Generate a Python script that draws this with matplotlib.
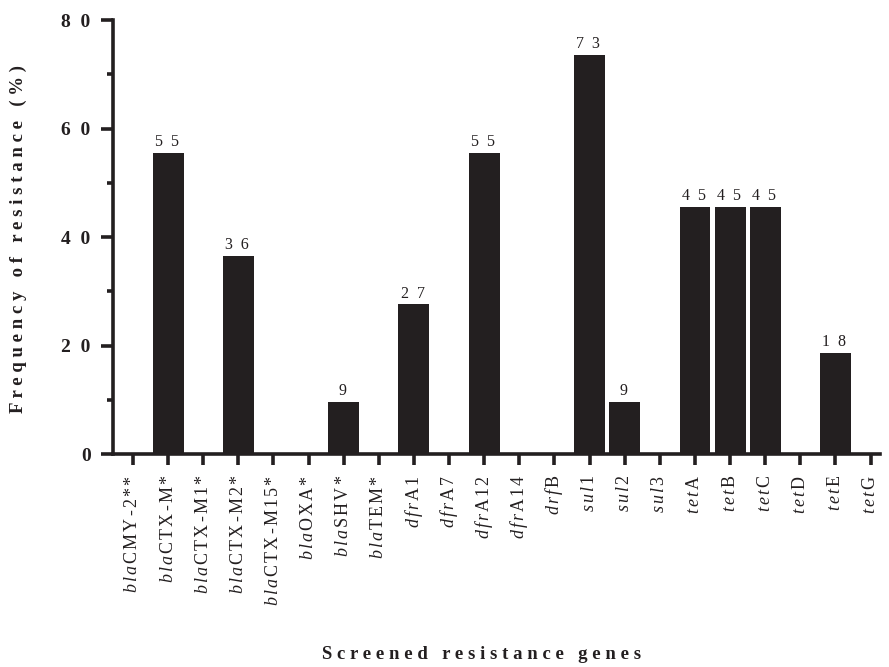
import matplotlib
matplotlib.use("Agg")
import matplotlib.pyplot as plt
from matplotlib.ticker import MultipleLocator

plt.rcParams['font.family'] = ['Liberation Serif', 'DejaVu Serif']
plt.rcParams['mathtext.fontset'] = 'custom'
plt.rcParams['mathtext.rm'] = 'Liberation Serif'
plt.rcParams['mathtext.it'] = 'Liberation Serif:italic'
plt.rcParams['mathtext.bf'] = 'Liberation Serif:bold'

# gene name parts: italic prefix, roman suffix
gene_italic = ['bla'] * 8 + ['dfr'] * 4 + ['drf'] + ['sul'] * 3 + ['tet'] * 6
gene_roman = ['CMY-2**', 'CTX-M*', 'CTX-M1*', 'CTX-M2*', 'CTX-M15*', 'OXA*', 'SHV*', 'TEM*',
              'A1', 'A7', 'A12', 'A14', 'B', '1', '2', '3',
              'A', 'B', 'C', 'D', 'E', 'G']
values = [0, 55.5, 0, 36.5, 0, 0, 9.6, 0,
          27.6, 0, 55.5, 0, 0, 73.5, 9.6, 0,
          45.6, 45.6, 45.6, 0, 18.6, 0]
bar_labels = ['', '55', '', '36', '', '', '9', '',
              '27', '', '55', '', '', '73', '9', '',
              '45', '45', '45', '', '18', '']
y_ticks = [0, 20, 40, 60, 80]


def sp(s, sep='\u2009'):
    return sep.join(list(s))


def mt(s):
    out = []
    for ch in s:
        if ch in '-*':
            out.append(r'\text{' + ch + '}')
        else:
            out.append(ch)
    return r'\,'.join(out)


labels = []
for it, rm in zip(gene_italic, gene_roman):
    labels.append(r'$\mathit{' + r'\,'.join(it) + r'}\,\mathrm{' + mt(rm) + '}$')

fig = plt.figure(figsize=(8.89, 6.67), dpi=100)
ax = fig.add_axes([0.127, 0.3193, 0.863, 0.6507])

x = list(range(len(values)))
ax.bar(x, values, width=0.88, color='#231f20', edgecolor='none', zorder=2)

for xi, v, lab in zip(x, values, bar_labels):
    if lab:
        ax.annotate(sp(lab, '  '), (xi, v), xytext=(-1, 2), textcoords='offset points',
                    ha='center', va='bottom', fontsize=11.5, color='#231f20')

ax.set_xlim(-0.57, 21.27)
ax.set_ylim(0, 80)
ax.set_xticks(x)
ax.set_xticklabels(labels, rotation=90, fontsize=13, color='#231f20')
ax.set_yticks(y_ticks)
ax.set_yticklabels([sp(str(t), '  ') for t in y_ticks], fontsize=14, fontweight='bold',
                   color='#231f20')
ax.yaxis.set_minor_locator(MultipleLocator(10))

for s in ['top', 'right']:
    ax.spines[s].set_visible(False)
for s in ['left', 'bottom']:
    ax.spines[s].set_linewidth(2.6)
    ax.spines[s].set_color('#231f20')

ax.tick_params(axis='y', which='major', length=9, width=2.6, color='#231f20', pad=7)
ax.tick_params(axis='y', which='minor', length=4.5, width=2.6, color='#231f20')
ax.tick_params(axis='x', which='major', length=8, width=2.6, color='#231f20', pad=7)

fig.text(0.021, 0.642, sp('Frequency of resistance (%)', ' '), rotation=90,
         ha='center', va='center', fontsize=13.5, fontweight='bold', color='#231f20')
fig.text(0.542, 0.018, '   '.join(sp(w, ' ') for w in 'Screened resistance genes'.split()),
         ha='center', va='center', fontsize=13.5, fontweight='bold', color='#231f20')

fig.savefig('out.png', dpi=100)
